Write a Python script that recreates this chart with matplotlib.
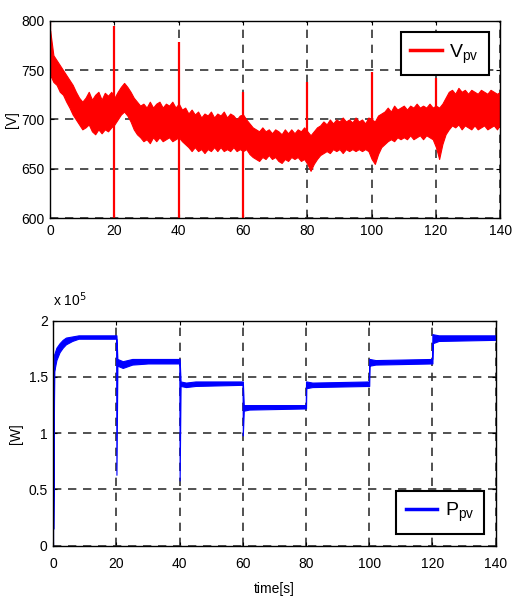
import numpy as np
import matplotlib
matplotlib.use('Agg')
import matplotlib.pyplot as plt

plt.rcParams['font.family'] = ['Liberation Sans Narrow', 'Liberation Sans', 'DejaVu Sans']

# --- PV voltage band (upper / lower envelope, V), one value per second
t_v = np.arange(0, 141)
v_up = [790, 765, 760, 755, 750, 745, 740, 735, 728, 722,
        718, 722, 728, 720, 725, 728, 720, 727, 724, 728,
        722, 728, 733, 737, 733, 728, 722, 718, 714, 716,
        712, 718, 712, 716, 718, 712, 716, 714, 718, 712,
        716, 710, 712, 706, 710, 705, 708, 702, 706, 704,
        708, 702, 706, 704, 708, 702, 706, 704, 700, 704,
        705, 700, 696, 692, 690, 688, 692, 688, 690, 686,
        690, 688, 685, 690, 686, 690, 686, 690, 688, 692,
        688, 684, 688, 692, 694, 698, 695, 700, 696, 700,
        698, 702, 698, 700, 697, 702, 698, 700, 696, 702,
        700, 698, 704, 706, 708, 712, 708, 714, 710, 712,
        714, 710, 714, 712, 716, 712, 714, 712, 716, 712,
        714, 712, 716, 722, 728, 730, 726, 732, 728, 730,
        726, 730, 728, 726, 730, 728, 726, 730, 728, 726, 728]
v_lo = [745, 738, 735, 728, 725, 718, 712, 705, 700, 695,
        690, 692, 695, 688, 685, 690, 686, 690, 688, 692,
        695, 700, 705, 708, 704, 698, 690, 685, 682, 678,
        680, 676, 682, 678, 682, 678, 680, 682, 678, 680,
        682, 678, 675, 672, 668, 672, 668, 670, 666, 670,
        668, 672, 668, 672, 668, 670, 668, 672, 668, 670,
        668, 670, 665, 662, 660, 658, 662, 660, 664, 660,
        662, 658, 656, 660, 658, 662, 660, 662, 658, 660,
        655, 648, 655, 660, 664, 666, 668, 666, 670, 668,
        670, 666, 670, 668, 670, 668, 670, 668, 670, 668,
        660, 655, 665, 672, 675, 678, 680, 678, 682, 680,
        682, 680, 684, 680, 682, 684, 680, 684, 682, 680,
        672, 660, 675, 685, 690, 694, 692, 695, 690, 694,
        692, 690, 694, 690, 692, 694, 690, 692, 694, 690, 695]
# transient spikes at the irradiance steps: time, min, max
spike_t = [0, 20, 40, 60, 80, 100, 120]
spike_lo = [745, 600, 600, 600, 680, 680, 680]
spike_hi = [800, 795, 778, 728, 738, 748, 742]

# --- PV power band (x 1e5 W)
t_p = [0, 0.3, 1, 2, 3, 4, 6, 8, 12, 19.9,
       20, 20.3, 22, 25, 30, 39.9,
       40, 40.3, 42, 45, 59.9,
       60, 60.3, 62, 79.9,
       80, 80.1, 82, 99.9,
       100, 100.1, 102, 119.9,
       120, 120.1, 122, 140]
p_lo = [0.15, 1.55, 1.65, 1.72, 1.76, 1.79, 1.82, 1.84, 1.84, 1.84,
        0.63, 1.60, 1.58, 1.61, 1.62, 1.62,
        0.58, 1.42, 1.41, 1.42, 1.43,
        0.98, 1.20, 1.21, 1.22,
        1.22, 1.40, 1.41, 1.42,
        1.42, 1.60, 1.61, 1.62,
        1.62, 1.80, 1.82, 1.83]
p_hi = [0.15, 1.70, 1.76, 1.80, 1.83, 1.85, 1.86, 1.87, 1.87, 1.87,
        1.87, 1.66, 1.64, 1.66, 1.66, 1.66,
        1.66, 1.46, 1.45, 1.46, 1.46,
        1.46, 1.25, 1.25, 1.25,
        1.46, 1.46, 1.45, 1.46,
        1.66, 1.66, 1.65, 1.66,
        1.88, 1.88, 1.87, 1.87]

xticks = [0, 20, 40, 60, 80, 100, 120, 140]

fig = plt.figure(figsize=(5.12, 6.08), dpi=100)
ax1 = fig.add_axes([0.098, 0.641, 0.879, 0.325])
ax2 = fig.add_axes([0.104, 0.1025, 0.864, 0.37])

grid_kw = dict(color='#333333', linestyle=(0, (5, 4)), linewidth=1.2)

leg_kw = dict(fontsize=14, fancybox=False, framealpha=1, edgecolor='black',
              handlelength=1.6, handletextpad=0.4, borderpad=0.5,
              borderaxespad=0.6)

# top: voltage
ax1.fill_between(t_v, v_lo, v_up, color='red', lw=0.8, edgecolor='red')
ax1.vlines(spike_t, spike_lo, spike_hi, color='red', lw=1.6)
ax1.plot([], [], color='red', lw=2.5, label=r'V$_{\mathregular{pv}}$')
ax1.set_xlim(0, 140)
ax1.set_ylim(600, 800)
ax1.set_yticks([600, 650, 700, 750, 800])
ax1.set_ylabel('[V]', fontsize=10, labelpad=2)
ax1.legend(loc='upper right', **leg_kw)

# bottom: power
ax2.fill_between(t_p, p_lo, p_hi, color='blue', lw=0.8, edgecolor='blue')
ax2.vlines([0], [0], [1.7], color='blue', lw=1.6)
ax2.plot([], [], color='blue', lw=2.5, label=r'P$_{\mathregular{pv}}$')
ax2.set_xlim(0, 140)
ax2.set_ylim(0, 2)
ax2.set_yticks([0, 0.5, 1, 1.5, 2])
ax2.set_yticklabels(['0', '0.5', '1', '1.5', '2'])
ax2.set_ylabel('[W]', fontsize=10, labelpad=4)
ax2.set_xlabel('time[s]', fontsize=10, labelpad=8)
ax2.text(0.0, 1.05, r'x 10$^5$', transform=ax2.transAxes, fontsize=10,
         ha='left', va='bottom')
ax2.legend(loc='lower right', **leg_kw)

for ax in (ax1, ax2):
    ax.set_xticks(xticks)
    ax.grid(True, **grid_kw)
    ax.set_axisbelow(True)
    ax.tick_params(direction='in', top=True, right=True, length=3,
                   labelsize=10, pad=4)
    for s in ax.spines.values():
        s.set_linewidth(1.0)
    ax.get_legend().get_frame().set_linewidth(1.5)

ax2.tick_params(axis='x', pad=8)

fig.savefig('out.png', dpi=100)
